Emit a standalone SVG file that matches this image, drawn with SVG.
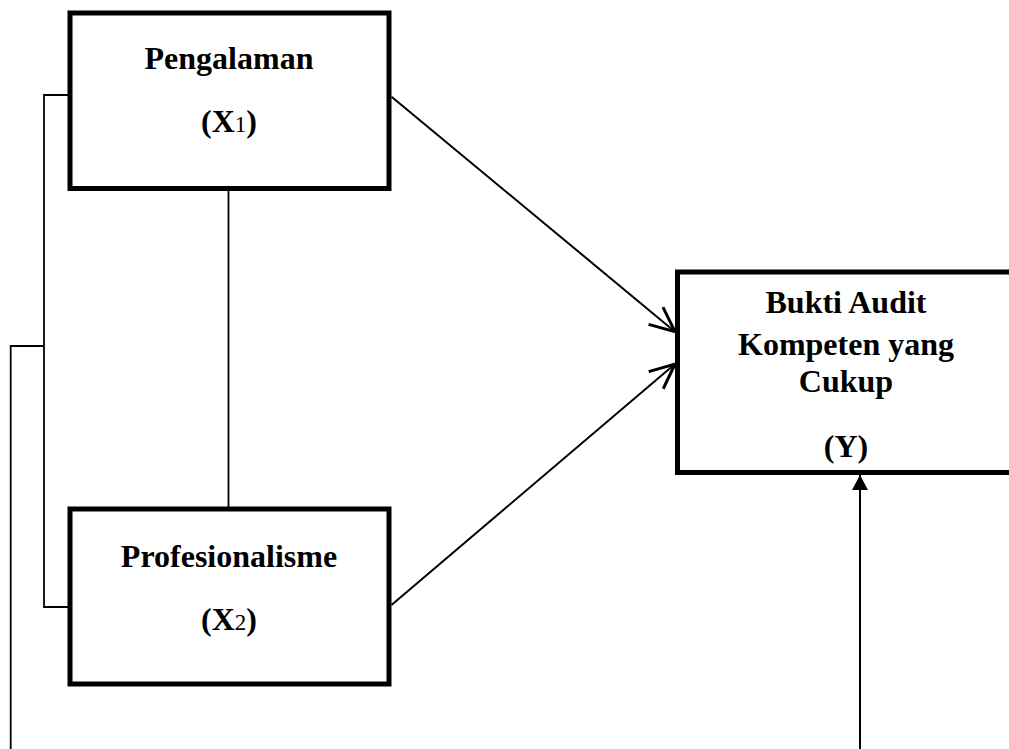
<svg xmlns="http://www.w3.org/2000/svg" width="1009" height="749" viewBox="0 0 1009 749">
<style>
.box{fill:#fff;stroke:#000;stroke-width:5}
.t{font-family:"Liberation Serif","Times New Roman",serif;font-weight:bold;font-size:32px;fill:#000;text-anchor:middle}
.sub{font-weight:normal;font-size:23px}
.c{fill:none;stroke:#000;stroke-width:1.8}
.a{fill:none;stroke:#000;stroke-width:2}
</style>
<defs>
<marker id="open" markerUnits="userSpaceOnUse" markerWidth="30" markerHeight="30" refX="22" refY="10" orient="auto" viewBox="0 0 24 20">
<path d="M2,1 L22,10 L2,19" fill="none" stroke="#000" stroke-width="2.4"/>
</marker>
<marker id="solid" markerUnits="userSpaceOnUse" markerWidth="16" markerHeight="16" refX="15" refY="8" orient="auto" viewBox="0 0 16 16">
<path d="M0,0 L15,8 L0,16 Z" fill="#000"/>
</marker>
</defs>
<g id="connectors">
<path class="c" d="M228.5,188 V509"/>
<path class="c" d="M70,95 H44 V607 H70"/>
<path class="c" d="M44,346 H10.7 V749"/>
<path class="a" d="M391.5,96.7 L675,331.7" marker-end="url(#open)"/>
<path class="a" d="M391.5,605 L675,364" marker-end="url(#open)"/>
<path class="a" d="M860,749 V475" marker-end="url(#solid)"/>
</g>
<g id="x1">
<rect class="box" x="70" y="13" width="319" height="175.5"/>
<text class="t" x="229" y="69">Pengalaman</text>
<text class="t" x="229" y="131.5">(X<tspan class="sub">1</tspan>)</text>
</g>
<g id="x2">
<rect class="box" x="70" y="509" width="319" height="175"/>
<text class="t" x="229" y="566.5">Profesionalisme</text>
<text class="t" x="229" y="630">(X<tspan class="sub">2</tspan>)</text>
</g>
<g id="y">
<rect class="box" x="677.5" y="272" width="345" height="200.5"/>
<text class="t" x="846" y="313">Bukti Audit</text>
<text class="t" x="846" y="355">Kompeten yang</text>
<text class="t" x="846" y="391.5">Cukup</text>
<text class="t" x="846" y="456.5">(Y)</text>
</g>
</svg>
